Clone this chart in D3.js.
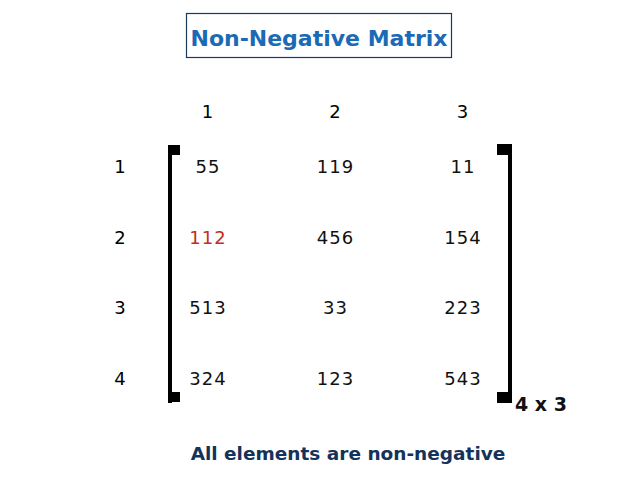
<!DOCTYPE html>
<html><head><meta charset="utf-8">
<script src="https://cdn.jsdelivr.net/npm/d3@7"></script>
<style>body{margin:0;background:#fff}</style></head>
<body><svg id="c" width="638" height="479"></svg>
<script>
const colLabels = ["1","2","3"];
const rowLabels = ["1","2","3","4"];
const values = [
  [55,119,11],
  [112,456,154],
  [513,33,223],
  [324,123,543]
];
const highlight = [[1,0]];
const titleText = "Non-Negative Matrix";
const sizeText = "4 x 3";
const footText = "All elements are non-negative";

const svg = d3.select("#c");
const x = d3.scalePoint().domain(colLabels).range([208,463]);
const y = d3.scalePoint().domain(rowLabels).range([167,379]);
const font = "'DejaVu Sans', sans-serif";

svg.append("rect").attr("x",186.5).attr("y",13.5).attr("width",265).attr("height",44)
  .attr("fill","none").attr("stroke","#1a3a5a").attr("stroke-width",1.2);
svg.append("text").attr("x",319).attr("y",46).attr("text-anchor","middle")
  .attr("font-family",font).attr("font-weight","bold").attr("font-size",22)
  .attr("fill","#1a6ab5").text(titleText);

svg.selectAll(".ch").data(colLabels).join("text")
  .attr("x",d=>x(d)).attr("y",118).attr("text-anchor","middle")
  .attr("font-family",font).attr("font-size",18).attr("letter-spacing",1).text(d=>d);
svg.selectAll(".rh").data(rowLabels).join("text")
  .attr("x",120).attr("y",d=>y(d)+6).attr("text-anchor","middle")
  .attr("font-family",font).attr("font-size",18).text(d=>d);

const cells = [];
values.forEach((r,i)=>r.forEach((v,j)=>cells.push({i,j,v})));
svg.selectAll(".cell").data(cells).join("text")
  .attr("x",d=>x(colLabels[d.j])).attr("y",d=>y(rowLabels[d.i])+6)
  .attr("text-anchor","middle").attr("font-family",font).attr("font-size",18)
  .attr("letter-spacing",1)
  .attr("fill",d=>highlight.some(h=>h[0]===d.i&&h[1]===d.j)?"#c0301a":"#111")
  .text(d=>d.v);

const g = svg.append("g").attr("fill","#000");
g.append("rect").attr("x",168).attr("y",145).attr("width",4).attr("height",258);
g.append("rect").attr("x",168).attr("y",145).attr("width",12).attr("height",10);
g.append("rect").attr("x",168).attr("y",392).attr("width",12).attr("height",10);
g.append("rect").attr("x",508).attr("y",144).attr("width",4).attr("height",259);
g.append("rect").attr("x",497).attr("y",144).attr("width",15).attr("height",11);
g.append("rect").attr("x",497).attr("y",392).attr("width",15).attr("height",11);

svg.append("text").attr("x",515).attr("y",411).attr("font-family",font)
  .attr("font-weight","bold").attr("font-size",19).attr("fill","#111").text(sizeText);
svg.append("text").attr("x",348).attr("y",460).attr("text-anchor","middle")
  .attr("font-family",font).attr("font-weight","bold").attr("font-size",18.5)
  .attr("fill","#14325a").text(footText);
</script></body></html>
